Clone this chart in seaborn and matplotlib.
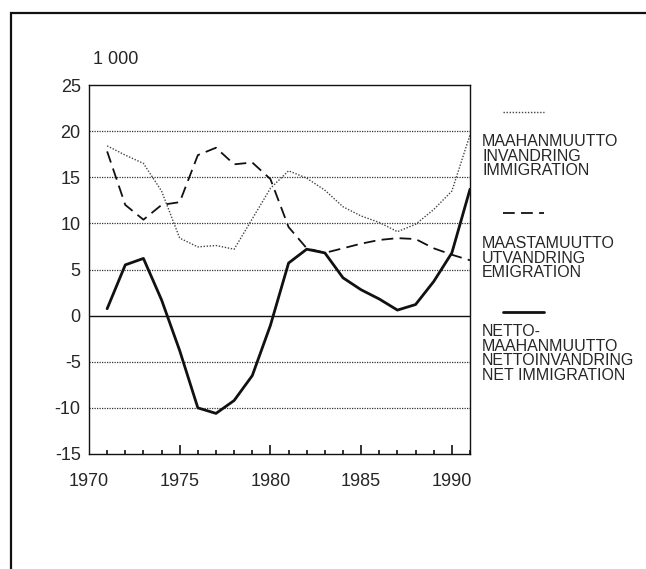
import matplotlib
matplotlib.use("Agg")
import matplotlib.pyplot as plt
from matplotlib.patches import Rectangle
import seaborn as sns
import pandas as pd

# data, thousands of persons
years = list(range(1971, 1992))
immigration = [18.4, 17.4, 16.5, 13.5, 8.4, 7.45, 7.6, 7.2, 10.5, 13.8, 15.7,
               14.9, 13.6, 11.8, 10.8, 10.1, 9.1, 9.9, 11.5, 13.5, 19.6]
emigration = [17.8, 12.0, 10.4, 12.0, 12.3, 17.4, 18.2, 16.4, 16.6, 14.8, 9.6,
              7.3, 6.8, 7.3, 7.8, 8.2, 8.4, 8.3, 7.3, 6.6, 6.0]
net_immigration = [0.75, 5.5, 6.2, 1.7, -3.8, -10.0, -10.6, -9.2, -6.5, -1.05, 5.7,
                   7.2, 6.8, 4.1, 2.8, 1.8, 0.6, 1.2, 3.7, 6.8, 13.7]
y_ticks = [-15, -10, -5, 0, 5, 10, 15, 20, 25]
x_ticks = [1970, 1975, 1980, 1985, 1990]
unit_label = "1 000"
legend_labels = ["MAAHANMUUTTO\nINVANDRING\nIMMIGRATION",
                 "MAASTAMUUTTO\nUTVANDRING\nEMIGRATION",
                 "NETTO-\nMAAHANMUUTTO\nNETTOINVANDRING\nNET IMMIGRATION"]

df = pd.DataFrame({"year": years, "imm": immigration,
                   "emi": emigration, "net": net_immigration})

sns.set_style("ticks")
plt.rcParams['font.family'] = ['Liberation Sans', 'DejaVu Sans']
plt.rcParams['axes.unicode_minus'] = False

W, H = 646, 569
fig = plt.figure(figsize=(W / 100, H / 100), dpi=100)
ax = fig.add_axes([89 / W, 1 - 454 / H, (470 - 89) / W, (454 - 85) / H])

styles = [
    dict(y="imm", color="#444444", lw=1.0, ls=(0, (1, 1.2))),
    dict(y="emi", color="#111111", lw=1.3, ls=(0, (6.5, 3.5))),
    dict(y="net", color="#111111", lw=2.0, ls="-"),
]

# yearly marks pointing up from the bottom edge, longer every five years
tick_years = [1970] + years
minor_years = [yr for yr in tick_years if yr not in x_ticks]
ax.vlines(minor_years, 0, 0.012, transform=ax.get_xaxis_transform(),
          color="#111111", lw=1.2, linestyles="solid", zorder=6)
ax.vlines(x_ticks, 0, 0.024, transform=ax.get_xaxis_transform(),
          color="#111111", lw=1.2, linestyles="solid", zorder=6)

for st in styles:
    sns.lineplot(data=df, x="year", y=st["y"], ax=ax, color=st["color"],
                 linewidth=st["lw"], linestyle=st["ls"], legend=False)

ax.set_xlim(1970, 1991)
ax.set_ylim(-15, 25)
ax.set_xlabel("")
ax.set_ylabel("")

for y in y_ticks[1:-1]:
    if y == 0:
        ax.axhline(0, color="#111111", lw=1.0, zorder=1)
    else:
        ax.axhline(y, color="#333333", lw=0.9, ls=(0, (1, 1)), zorder=1)

for sp in ax.spines.values():
    sp.set_color("#111111")
    sp.set_linewidth(1.0)

ax.set_xticks(x_ticks)
ax.set_yticks(y_ticks)
ax.tick_params(axis="x", which="both", length=0, labelsize=13, pad=14)
ax.tick_params(axis="y", which="both", length=0, labelsize=13, pad=6)

fig.text(93 / W, 1 - 59 / H, unit_label, fontsize=13, va="center", ha="left")

# legend drawn beside the plot in its own transparent axes
lax = fig.add_axes([0, 0, 1, 1])
lax.set_xlim(0, W)
lax.set_ylim(H, 0)
lax.axis("off")
lax.patch.set_visible(False)
legend_rows = [(112, 135), (213, 237), (312, 325)]
for st, label, (ly, ty) in zip(styles, legend_labels, legend_rows):
    lax.plot([503, 544], [ly, ly], color=st["color"], lw=st["lw"], ls=st["ls"])
    lax.text(482, ty - 1, label, fontsize=11.5, va="top", ha="left",
             linespacing=0.97)

# outer frame of the page
fig.add_artist(Rectangle((11 / W, -0.1), 1.2, 1.1 - 13 / H, fill=False,
                         edgecolor="#111111", lw=1.6))

fig.savefig("out.png", dpi=100)
